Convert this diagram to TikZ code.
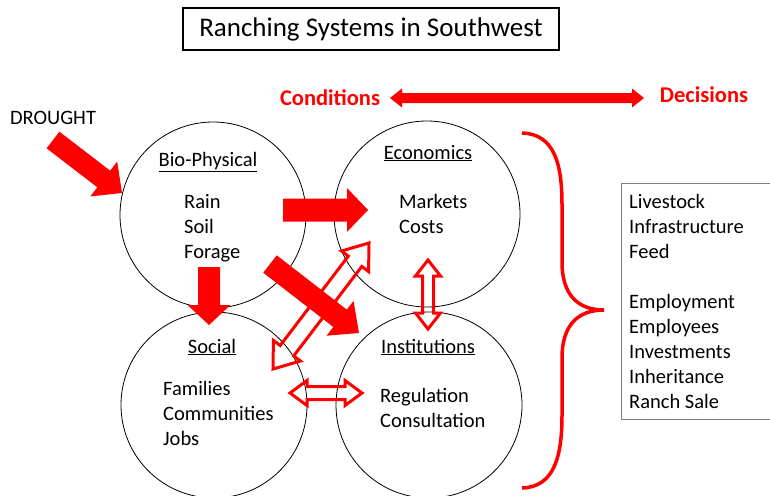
\documentclass[tikz,border=0pt]{standalone}
\usepackage{fontspec}
\setmainfont{Carlito}
\usetikzlibrary{calc}

% block arrow: style, tail, tip, half shaft, half head, head length
\newcommand{\blockarrow}[6]{%
  \coordinate (ba-h) at ($(#3)!#6!(#2)$);
  \path[#1] ($(#2)!#4!90:(#3)$) -- ($(ba-h)!#4!-90:(#2)$) -- ($(ba-h)!#5!-90:(#2)$) -- (#3)
    -- ($(ba-h)!#5!90:(#2)$) -- ($(ba-h)!#4!90:(#2)$) -- ($(#2)!#4!-90:(#3)$) -- cycle;}
% double block arrow: style, tip, tip, half shaft, half head, head length
\newcommand{\doublearrow}[6]{%
  \coordinate (da-h1) at ($(#2)!#6!(#3)$);
  \coordinate (da-h2) at ($(#3)!#6!(#2)$);
  \path[#1] (#2) -- ($(da-h1)!#5!90:(#3)$) -- ($(da-h1)!#4!90:(#3)$) -- ($(da-h2)!#4!-90:(#2)$)
    -- ($(da-h2)!#5!-90:(#2)$) -- (#3) -- ($(da-h2)!#5!90:(#2)$) -- ($(da-h2)!#4!90:(#2)$)
    -- ($(da-h1)!#4!-90:(#3)$) -- ($(da-h1)!#5!-90:(#3)$) -- cycle;}
\newcommand{\uline}[1]{\underline{#1}}

\begin{document}
\begin{tikzpicture}[x=1pt, y=-1pt, font=\fontsize{20.5}{25}\selectfont,
  sphere/.style={circle, draw, line width=0.8pt, minimum size=186pt},
  heading/.style={anchor=base},
  items/.style={anchor=base west, align=left, inner sep=0pt},
  solid arrow/.style={fill=red},
  hollow arrow/.style={draw=red, line width=3pt, line join=miter},
  redlabel/.style={text=red, font=\fontsize{22.5}{27}\selectfont\bfseries}]
\useasboundingbox (0,0) rectangle (770,495);

% title
\node[draw, line width=1.2pt, minimum width=376pt, minimum height=42pt, font=\fontsize{27}{32}\selectfont] (title) at (371,29) {Ranching Systems in Southwest};

% conditions <-> decisions
\node[redlabel] (cond) at (330,98) {Conditions};
\node[redlabel] (dec) at (704,95) {Decisions};
\coordinate (cond end) at (390,98);
\coordinate (dec end) at (644,98);
\doublearrow{solid arrow}{cond end}{dec end}{5pt}{9.5pt}{12pt}

\node (drought) at (53,118) {DROUGHT};

% the four circles
\node[sphere] (bio) at (213,215) {};
\node[sphere] (econ) at (427,214) {};
\node[sphere] (social) at (214,405) {};
\node[sphere] (inst) at (429,405) {};

% last baselines for the lists
\node[heading] (bio title) at (208,166) {\uline{Bio-Physical}};
\node[items] (bio list) at (184,258) {Rain\\Soil\\Forage};
\node[heading] (econ title) at (428,159) {\uline{Economics}};
\node[items] (econ list) at (399,233) {Markets\\Costs};
\node[heading] (social title) at (212,353) {\uline{Social}};
\node[items] (social list) at (163,445) {Families\\Communities\\Jobs};
\node[heading] (inst title) at (428,353) {\uline{Institutions}};
\node[items] (inst list) at (380,427) {Regulation\\Consultation};

% arrow ends
\coordinate (drought tail) at (53,140);
\coordinate (drought tip) at (122,193);
\coordinate (be tail) at (283,210);
\coordinate (be tip) at (368,210);
\coordinate (bs tail) at (209,267);
\coordinate (bs tip) at (209,325);
\coordinate (bi tail) at (270,264);
\coordinate (bi tip) at (359,333);
\coordinate (se low) at (273,369);
\coordinate (se high) at (369,243);
\coordinate (ei top) at (428,260);
\coordinate (ei bottom) at (428,329);
\coordinate (si left) at (290,393);
\coordinate (si right) at (362,393);

\doublearrow{hollow arrow}{se low}{se high}{8.5pt}{17pt}{23pt}
\doublearrow{hollow arrow}{ei top}{ei bottom}{5.5pt}{12.5pt}{16pt}
\doublearrow{hollow arrow}{si left}{si right}{6.5pt}{12.5pt}{17pt}
\blockarrow{solid arrow}{drought tail}{drought tip}{10.5pt}{22pt}{23pt}
\blockarrow{solid arrow}{be tail}{be tip}{11.5pt}{22pt}{21pt}
\blockarrow{solid arrow}{bs tail}{bs tip}{11pt}{21.5pt}{20pt}
\blockarrow{solid arrow}{bi tail}{bi tip}{11pt}{22pt}{24pt}

% brace
\draw[red, line width=3.5pt] (522,133) .. controls (555,134) and (562,165) .. (562,205) -- (562,262)
  .. controls (562,295) and (578,310) .. (604,310) .. controls (578,310) and (562,325) .. (562,358)
  -- (562,415) .. controls (562,455) and (555,487) .. (522,488);

% decisions box
\node[draw=gray, line width=0.8pt, anchor=north west, minimum width=170pt, minimum height=236pt] (choices) at (621,183) {};
\node[items] (choices list) at (629,408) {Livestock\\Infrastructure\\Feed\\[25pt]Employment\\Employees\\Investments\\Inheritance\\Ranch Sale};
\end{tikzpicture}
\end{document}
